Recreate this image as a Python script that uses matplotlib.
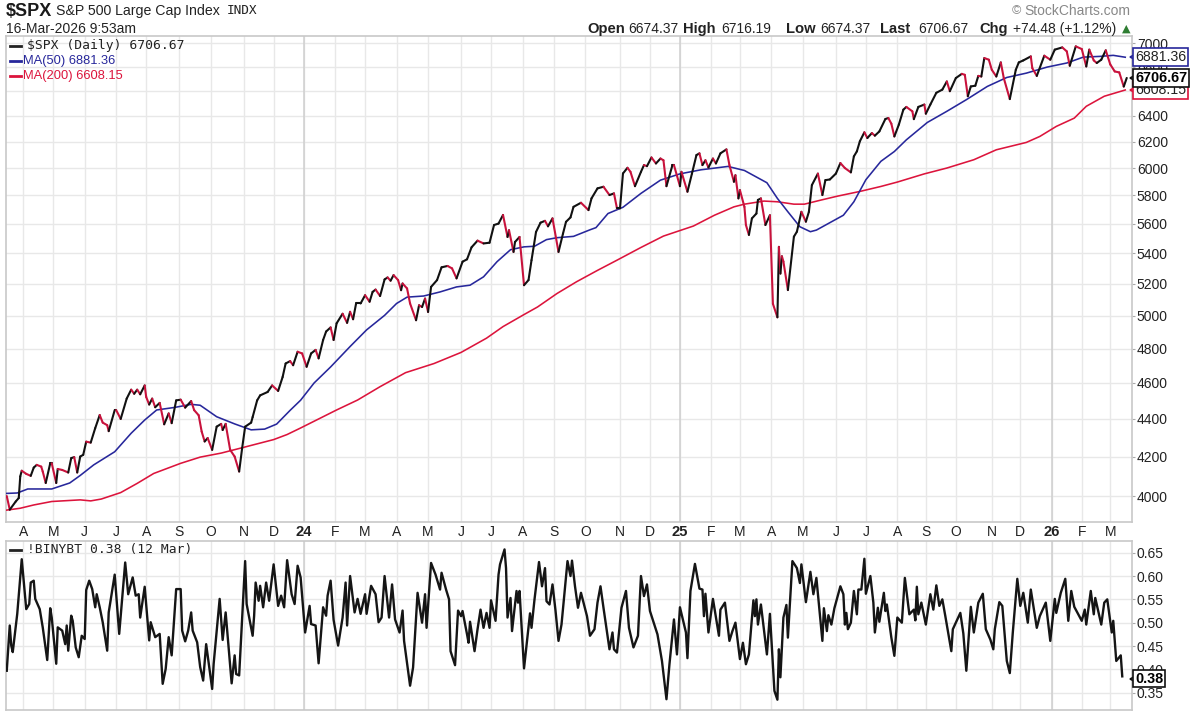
import matplotlib
matplotlib.use("Agg")
import matplotlib.pyplot as plt
from matplotlib.collections import LineCollection
from matplotlib.lines import Line2D
from matplotlib.ticker import NullLocator, FixedLocator, FixedFormatter

plt.rcParams['font.family'] = ['Liberation Sans', 'DejaVu Sans']

# (trading session number, value)
spx_close = [(0,4000),(2,3933),(6,3973),(8,3990),(9,4098),(10,4127),(13,4111),(16,4101),(18,4143),(20,4157),(23,4148),(24,4123),(26,4065),(29,4165),(30,4165),(33,4065),(34,4136),(37,4131),(41,4118),(43,4192),(45,4197),(47,4118),(49,4200),(51,4209),(53,4278),(56,4273),(59,4350),(62,4421),(64,4380),(67,4366),(68,4334),(72,4448),(73,4448),(76,4400),(80,4512),(83,4562),(85,4539),(87,4562),(89,4536),(92,4586),(93,4521),(95,4479),(97,4512),(99,4464),(102,4488),(105,4371),(108,4430),(110,4377),(113,4502),(116,4506),(119,4462),(123,4498),(125,4448),(128,4420),(130,4332),(132,4279),(134,4297),(137,4235),(140,4358),(143,4373),(144,4340),(146,4373),(149,4235),(152,4200),(155,4123),(157,4244),(159,4358),(163,4380),(164,4410),(167,4502),(169,4530),(174,4549),(177,4586),(181,4555),(184,4634),(186,4712),(189,4726),(191,4702),(194,4781),(197,4771),(200,4693),(203,4771),(206,4792),(208,4742),(211,4851),(213,4902),(216,4927),(218,4851),(220,4952),(224,5011),(227,4955),(229,5023),(231,4977),(233,5075),(236,5075),(239,5127),(242,5086),(244,5148),(246,5163),(249,5122),(252,5228),(254,5241),(256,5220),(258,5256),(261,5224),(263,5159),(264,5202),(267,5170),(269,5075),(273,4971),(275,5064),(277,5053),(279,5106),(281,5022),(283,5180),(287,5224),(290,5307),(294,5316),(297,5300),(300,5235),(304,5344),(307,5360),(310,5440),(314,5485),(318,5466),(322,5471),(325,5592),(328,5602),(331,5662),(334,5510),(335,5556),(338,5409),(339,5476),(342,5510),(345,5191),(348,5224),(350,5354),(353,5544),(356,5608),(359,5621),(361,5583),(364,5638),(368,5409),(371,5533),(373,5614),(376,5645),(378,5719),(383,5748),(388,5696),(390,5779),(394,5851),(398,5863),(402,5803),(405,5815),(407,5708),(409,5708),(411,5960),(414,6002),(416,5972),(419,5867),(423,5972),(425,6022),(427,6014),(430,6079),(433,6034),(436,6071),(438,6058),(440,5867),(444,6022),(445,6022),(449,5867),(450,5972),(454,5827),(457,5959),(460,6097),(462,6110),(464,6022),(466,6058),(468,6004),(471,6071),(473,6034),(476,6110),(480,6140),(482,6022),(485,5899),(486,5947),(488,5779),(489,5838),(492,5719),(493,5592),(495,5524),(497,5638),(500,5672),(501,5768),(503,5779),(506,5592),(509,5660),(511,5073),(514,4989),(515,5443),(516,5266),(517,5380),(518,5345),(521,5160),(525,5512),(527,5546),(530,5684),(533,5615),(535,5684),(537,5875),(541,5959),(544,5803),(546,5911),(549,5916),(553,5959),(556,6037),(559,6000),(563,5968),(565,6087),(567,6125),(569,6202),(572,6271),(574,6227),(577,6265),(579,6245),(582,6278),(586,6375),(588,6383),(590,6338),(592,6239),(595,6331),(598,6449),(600,6471),(604,6436),(605,6374),(608,6471),(612,6490),(613,6417),(616,6490),(620,6585),(624,6611),(627,6678),(629,6598),(633,6706),(637,6741),(639,6733),(641,6557),(643,6637),(646,6643),(648,6724),(650,6719),(652,6874),(655,6860),(657,6775),(660,6719),(663,6837),(665,6705),(669,6534),(673,6775),(675,6837),(678,6854),(683,6888),(684,6789),(687,6724),(692,6894),(696,6860),(699,6946),(704,6965),(707,6931),(709,6809),(713,6974),(717,6951),(720,6803),(722,6946),(725,6854),(727,6832),(730,6860),(733,6940),(736,6820),(739,6761),(742,6753),(745,6636),(747,6707)]

ma50 = [(0,4013),(7,4015),(14,4035),(30,4035),(42,4065),(49,4103),(58,4157),(72,4225),(83,4323),(92,4394),(100,4449),(112,4463),(123,4480),(129,4475),(140,4412),(152,4373),(163,4341),(172,4345),(180,4372),(189,4447),(196,4503),(205,4600),(216,4692),(229,4812),(240,4912),(252,5001),(260,5075),(267,5115),(278,5122),(289,5148),(300,5180),(309,5191),(318,5245),(327,5344),(336,5424),(345,5443),(352,5447),(360,5492),(367,5505),(378,5514),(389,5559),(393,5574),(401,5672),(411,5716),(423,5815),(436,5911),(449,5957),(463,5987),(481,6012),(492,5982),(507,5892),(514,5779),(521,5684),(529,5580),(536,5546),(540,5557),(558,5660),(565,5755),(573,5914),(583,6050),(592,6124),(600,6213),(614,6348),(627,6436),(640,6529),(654,6637),(667,6711),(680,6747),(694,6798),(707,6832),(718,6882),(729,6888),(738,6897),(746,6881)]

ma200 = [(0,3931),(9,3940),(18,3956),(30,3973),(49,3981),(56,3976),(63,3985),(76,4017),(87,4063),(98,4113),(116,4165),(129,4197),(143,4218),(156,4244),(178,4289),(187,4316),(196,4351),(220,4449),(234,4504),(249,4579),(266,4659),(285,4712),(303,4777),(320,4862),(331,4932),(345,5006),(354,5053),(367,5138),(380,5213),(394,5287),(407,5354),(423,5439),(438,5516),(458,5585),(472,5660),(485,5719),(492,5738),(505,5760),(514,5755),(525,5738),(532,5738),(543,5767),(554,5795),(569,5829),(583,5865),(594,5897),(612,5957),(627,6000),(645,6062),(660,6137),(680,6193),(689,6239),(700,6317),(712,6382),(720,6476),(732,6557),(746,6608)]

binybt = [(0,.397),(2,.494),(3,.451),(4,.437),(7,.519),(10,.636),(13,.529),(15,.540),(16,.586),(18,.590),(19,.551),(22,.529),(24,.490),(27,.420),(29,.531),(30,.511),(33,.412),(34,.490),(37,.483),(39,.454),(40,.494),(41,.440),(43,.515),(44,.504),(46,.447),(48,.426),(50,.472),(52,.465),(53,.570),(55,.590),(57,.572),(59,.533),(60,.561),(62,.533),(64,.501),(67,.440),(68,.522),(72,.603),(75,.476),(79,.629),(81,.561),(84,.597),(86,.558),(88,.561),(89,.511),(92,.577),(95,.462),(96,.501),(99,.469),(102,.476),(104,.369),(106,.401),(108,.469),(110,.430),(113,.572),(116,.572),(117,.483),(119,.460),(121,.483),(123,.522),(124,.483),(127,.458),(129,.405),(131,.376),(133,.454),(137,.358),(138,.412),(142,.551),(144,.463),(146,.522),(150,.370),(152,.430),(153,.390),(155,.387),(159,.632),(160,.540),(164,.472),(165,.515),(166,.586),(168,.547),(169,.579),(171,.533),(173,.586),(175,.547),(178,.625),(181,.536),(183,.558),(185,.533),(187,.634),(190,.561),(192,.540),(194,.622),(196,.597),(199,.479),(202,.536),(203,.497),(206,.494),(208,.413),(211,.533),(213,.515),(214,.558),(216,.590),(218,.506),(221,.451),(224,.511),(226,.586),(227,.494),(229,.600),(232,.522),(234,.551),(236,.519),(239,.561),(240,.519),(243,.579),(246,.561),(248,.501),(250,.511),(252,.600),(255,.511),(257,.582),(259,.507),(262,.479),(264,.526),(265,.461),(269,.365),(271,.404),(274,.564),(277,.500),(279,.561),(280,.489),(283,.628),(286,.603),(289,.571),(290,.607),(293,.571),(295,.550),(296,.439),(299,.409),(301,.526),(303,.514),(304,.525),(307,.475),(308,.457),(309,.502),(312,.439),(314,.486),(316,.528),(318,.489),(320,.521),(322,.489),(323,.548),(326,.504),(328,.603),(329,.625),(332,.657),(333,.617),(334,.511),(336,.553),(337,.482),(340,.568),(341,.543),(342,.568),(345,.402),(347,.461),(349,.520),(350,.489),(352,.550),(355,.630),(357,.578),(359,.617),(360,.546),(362,.539),(364,.582),(366,.526),(368,.461),(370,.496),(374,.632),(376,.600),(377,.633),(379,.578),(381,.532),(383,.564),(387,.514),(389,.472),(392,.486),(394,.543),(396,.578),(398,.532),(402,.443),(404,.479),(405,.443),(407,.436),(410,.532),(413,.568),(415,.489),(418,.447),(421,.472),(423,.600),(425,.557),(427,.582),(429,.525),(434,.475),(437,.418),(440,.336),(442,.411),(445,.507),(447,.432),(449,.533),(453,.479),(454,.424),(456,.568),(459,.626),(462,.573),(464,.571),(465,.514),(466,.562),(468,.479),(471,.551),(473,.511),(475,.472),(476,.528),(479,.543),(482,.461),(484,.482),(486,.500),(489,.422),(491,.457),(493,.411),(495,.432),(498,.548),(499,.514),(500,.550),(501,.496),(503,.539),(507,.432),(509,.519),(512,.354),(514,.335),(515,.443),(516,.383),(518,.511),(520,.538),(521,.468),(524,.632),(527,.617),(529,.585),(530,.625),(533,.544),(536,.609),(538,.561),(540,.596),(544,.461),(545,.531),(547,.482),(548,.516),(550,.496),(552,.531),(556,.578),(558,.561),(559,.496),(560,.521),(561,.486),(563,.500),(565,.568),(567,.518),(568,.571),(570,.571),(572,.637),(573,.562),(576,.600),(578,.543),(579,.479),(581,.532),(582,.502),(585,.564),(586,.525),(587,.539),(590,.468),(592,.429),(594,.511),(597,.500),(599,.596),(602,.518),(605,.528),(606,.505),(607,.577),(608,.518),(610,.543),(613,.496),(616,.561),(618,.528),(620,.580),(622,.536),(624,.550),(626,.514),(630,.439),(631,.486),(636,.521),(638,.477),(640,.397),(643,.534),(645,.479),(648,.543),(651,.562),(653,.486),(656,.464),(658,.443),(659,.486),(662,.544),(664,.536),(667,.418),(669,.392),(671,.479),(674,.594),(676,.536),(678,.564),(681,.500),(683,.571),(687,.489),(689,.514),(693,.543),(696,.461),(699,.551),(700,.521),(703,.564),(706,.594),(708,.504),(710,.568),(712,.534),(717,.504),(719,.528),(720,.496),(723,.568),(725,.518),(726,.553),(730,.496),(732,.543),(734,.550),(737,.479),(738,.504),(740,.418),(743,.430),(744,.385)]

month_sessions = [11,31,52,73,93,115,136,158,178,198,219,239,260,281,303,323,344,365,386,409,429,449,470,489,510,531,553,573,594,613,633,657,676,697,717,736]
month_labels = ['A','M','J','J','A','S','O','N','D','24','F','M','A','M','J','J','A','S','O','N','D','25','F','M','A','M','J','J','A','S','O','N','D','26','F','M']
year_labels = ['24','25','26']

price_ticks = [4000,4200,4400,4600,4800,5000,5200,5400,5600,5800,6000,6200,6400,6600,6800,7000]
price_labels = [str(v) for v in price_ticks]
breadth_ticks = [.35,.40,.45,.50,.55,.60,.65]
breadth_labels = ['0.35','0.40','0.45','0.50','0.55','0.60','0.65']

W, H = 1200, 711
fig = plt.figure(figsize=(W/100, H/100), dpi=100, facecolor='white')

def rect(l, t, r, b):
    return [l/W, 1-b/H, (r-l)/W, (b-t)/H]

def ftext(x, y, s, **kw):
    kw.setdefault('va', 'center')
    kw.setdefault('color', '#222222')
    fig.text(x/W, 1-y/H, s, **kw)

top = fig.add_axes(rect(6, 36, 1132, 521.7))
bot = fig.add_axes(rect(6, 540.7, 1132, 710))
GRID = '#e8e8e8'
YEARGRID = '#cfcfcf'
SPINE = '#c8c8c8'

for ax in (top, bot):
    ax.set_xlim(-0.5, 750.5)
    ax.set_xticks(month_sessions)
    ax.tick_params(axis='x', length=0, labelbottom=False)
    ax.xaxis.grid(True, color=GRID, lw=1)
    ax.yaxis.grid(True, color=GRID, lw=1)
    ax.set_axisbelow(True)
    for sp in ax.spines.values():
        sp.set_color(SPINE)
        sp.set_linewidth(1.2)
    ax.yaxis.tick_right()
    ax.tick_params(axis='y', length=2, width=0.8, color='#aaaaaa', pad=1.5,
                   labelsize=10, labelcolor='#222222')
    for s, lab in zip(month_sessions, month_labels):
        if lab in year_labels:
            ax.axvline(s, color=YEARGRID, lw=1.1, zorder=0.9)

top.set_yscale('log')
top.set_ylim(3875, 7064)
top.yaxis.set_major_locator(FixedLocator(price_ticks))
top.yaxis.set_major_formatter(FixedFormatter(price_labels))
top.yaxis.set_minor_locator(NullLocator())

bot.set_ylim(0.3129, 0.6757)
bot.yaxis.set_major_locator(FixedLocator(breadth_ticks))
bot.yaxis.set_major_formatter(FixedFormatter(breadth_labels))

# MAs
top.plot(*zip(*ma200), color='#dc143c', lw=1.15, zorder=3)
top.plot(*zip(*ma50), color='#27279b', lw=1.15, zorder=3)

# close: black on rising stretches, red on falling ones
segs, cols = [], []
for a, b in zip(spx_close[:-1], spx_close[1:]):
    segs.append([a, b])
    cols.append('#c8123c' if b[1] < a[1] else '#111111')
top.add_collection(LineCollection(segs, colors=cols, linewidths=1.5, zorder=4, capstyle='round', joinstyle='round'))

bot.plot(*zip(*binybt), color='#151515', lw=1.7, zorder=3, solid_joinstyle='round')

# month labels between panels
trans = bot.get_xaxis_transform()
for s, lab in zip(month_sessions, month_labels):
    isyear = lab in year_labels
    bot.text(s, 1.054, lab, transform=trans, ha='center', va='center', clip_on=False,
             fontsize=10.6 if isyear else 10, fontweight='bold' if isyear else 'normal',
             color='#222222')

# price callouts
def callout(ax, v, s, edge, bold=False, z=6, tc='#222222'):
    tr = ax.get_yaxis_transform()
    ax.plot([1.0044], [v], transform=tr, marker='<', ms=10, mfc='white', mec=edge, mew=1.2,
            clip_on=False, zorder=z)
    ax.annotate(s, xy=(1, v), xycoords=tr, xytext=(2.2, 0),
                textcoords='offset points', ha='left', va='center',
                fontsize=10.2 if not bold else 10.4, fontweight='bold' if bold else 'normal',
                color=tc, zorder=z + 0.5, annotation_clip=False,
                bbox=dict(boxstyle='square,pad=0.12', fc='white', ec=edge, lw=1.2))

callout(top, 6881.36, '6881.36', '#27279b', z=6)
callout(top, 6608.15, '6608.15', '#dc143c', z=7)
callout(top, 6706.67, '6706.67', '#111111', bold=True, z=8, tc='#000000')
callout(bot, 0.38, '0.38', '#111111', bold=True, z=8, tc='#000000')

# header
ftext(6, 12, '$SPX', fontsize=13, fontweight='bold', color='#1a1a1a')
ftext(56, 11, 'S&P 500 Large Cap Index', fontsize=10.2)
ftext(227, 11, 'INDX', fontsize=9.2, family='DejaVu Sans Mono')
ftext(6, 29, '16-Mar-2026 9:53am', fontsize=10)
ftext(1012, 11, '\u00a9', fontsize=9, color='#888888')
ftext(1024, 11, 'StockCharts.com', fontsize=10, color='#888888')

hdr = [(587,'Open',True),(628,'6674.37',False),(683,'High',True),(721,'6716.19',False),
       (786,'Low',True),(820,'6674.37',False),(880,'Last',True),(918,'6706.67',False),
       (979,'Chg',True),(1013,'+74.48 (+1.12%)',False)]
for x, s, b in hdr:
    ftext(x, 29, s, fontsize=10.6 if b else 10, fontweight='bold' if b else 'normal')
ftext(1122, 29, '\u25b2', fontsize=8, color='#2e7d32', family='DejaVu Sans')

# legends
def leg(panel_y, s, col, x=10, tx=27, **kw):
    fig.add_artist(Line2D([x/W, (x+11)/W], [1-panel_y/H]*2, color=col, lw=2))
    ftext(tx, panel_y, s, color=col, **kw)

leg(46, '$SPX (Daily) 6706.67', '#222222', family='DejaVu Sans Mono', fontsize=9.4)
leg(61, 'MA(50) 6881.36', '#27279b', x=10, tx=23, fontsize=9.3)
leg(76, 'MA(200) 6608.15', '#dc143c', x=10, tx=23, fontsize=9.3)
leg(550, '!BINYBT 0.38 (12 Mar)', '#222222', family='DejaVu Sans Mono', fontsize=9.4)

fig.savefig('out.png', dpi=100, facecolor='white')
